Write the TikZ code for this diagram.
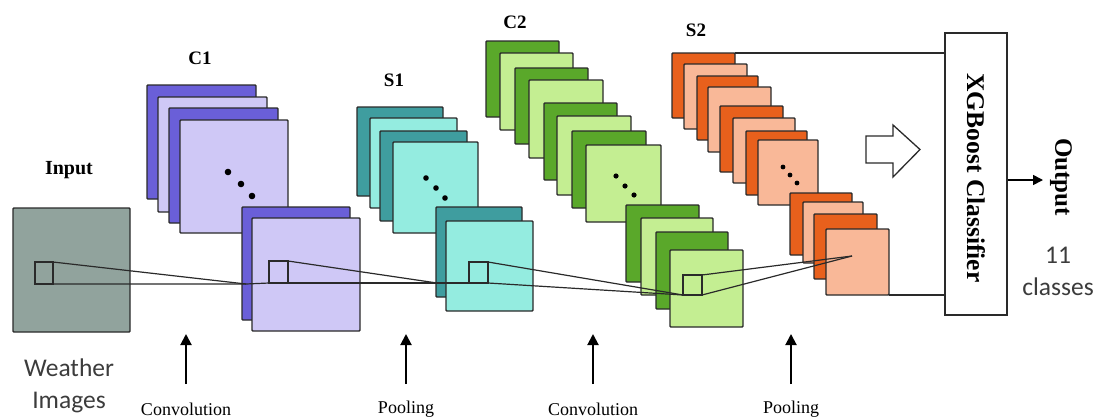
\documentclass[tikz,border=0pt]{standalone}
\usepackage{fontspec}
\setmainfont{Liberation Serif}
\newfontfamily\calib{Carlito}
\usetikzlibrary{arrows.meta}
\definecolor{inpc}{HTML}{91A39D}
\definecolor{cad}{HTML}{6A5FD8}
\definecolor{cal}{HTML}{CFC8F6}
\definecolor{sad}{HTML}{3F9D9F}
\definecolor{sal}{HTML}{94ECE0}
\definecolor{cbd}{HTML}{5AA82A}
\definecolor{cbl}{HTML}{C4EE92}
\definecolor{sbd}{HTML}{E8601C}
\definecolor{sbl}{HTML}{F9B898}
\definecolor{edge}{HTML}{2A2A2A}
\definecolor{graytext}{HTML}{3C3C3C}
\begin{document}
\begin{tikzpicture}[x=1pt,y=-1pt,
  map/.style={draw=edge,line width=1.4pt,rounded corners=0.8pt},
  dotc/.style={fill=black},
  rf/.style={draw=edge,line width=1.2pt},
  layerlabel/.style={font=\fontsize{19}{19}\selectfont\bfseries,inner sep=0pt},
  oplabel/.style={font=\fontsize{18}{18}\selectfont,inner sep=0pt},
  uparrow/.style={line width=2pt,-{Triangle[length=11pt,width=11pt]}},
  sanslabel/.style={font=\calib\fontsize{25.5}{32}\selectfont,text=graytext,inner sep=0pt,align=center}]
\useasboundingbox (0,0) rectangle (1099,418);

% ---------- Input ----------
\draw[map,fill=inpc] (13,208) rectangle (130,332);

% ---------- C1 ----------
\foreach \a/\b/\c/\d/\f in {147/85/256/199/cad,158/97/267/212/cal,169/108/278/223/cad,180/120/288/233/cal}
  \draw[map,fill=\f] (\a,\b) rectangle (\c,\d);
\foreach \p in {(228,172),(241,184),(252,196)} \fill[dotc] \p circle (3.3pt);
\foreach \a/\b/\c/\d/\f in {242/207/350/320/cad,252/218/360/331/cal}
  \draw[map,fill=\f] (\a,\b) rectangle (\c,\d);

% ---------- S1 ----------
\foreach \a/\b/\c/\d/\f in {357/107/443/196/sad,370/118/457/208/sal,380/131/467/221/sad,393/142/478/233/sal}
  \draw[map,fill=\f] (\a,\b) rectangle (\c,\d);
\foreach \p in {(426,178),(436,188),(445,198)} \fill[dotc] \p circle (2.8pt);
\foreach \a/\b/\c/\d/\f in {436/207/522/297/sad,446/221/533/311/sal}
  \draw[map,fill=\f] (\a,\b) rectangle (\c,\d);

% ---------- C2 ----------
\foreach \a/\b/\c/\d/\f in {486/41/559/117/cbd,500/53/573/130/cbl,515/68/588/144/cbd,529/80/603/158/cbl,544/103/617/180/cbd,557/116/631/195/cbl,572/131/646/208/cbd,586/145/661/222/cbl}
  \draw[map,fill=\f] (\a,\b) rectangle (\c,\d);
\foreach \p in {(616,176),(625,186),(634,195)} \fill[dotc] \p circle (2.6pt);
\foreach \a/\b/\c/\d/\f in {626/205/699/282/cbd,641/218/713/295/cbl,656/232/728/309/cbd,670/250/743/327/cbl}
  \draw[map,fill=\f] (\a,\b) rectangle (\c,\d);

% ---------- S2 ----------
\foreach \a/\b/\c/\d/\f in {672/53/735/118/sbd,684/64/747/129/sbl,697/76/758/140/sbd,708/87/771/152/sbl,720/106/783/172/sbd,733/118/795/183/sbl,746/131/807/195/sbd,758/140/818/205/sbl}
  \draw[map,fill=\f] (\a,\b) rectangle (\c,\d);
\foreach \p in {(783,167),(790,175),(797,183)} \fill[dotc] \p circle (2.4pt);
\foreach \a/\b/\c/\d/\f in {790/193/852/255/sbd,803/202/863/263/sbl,814/214/877/279/sbd,826/229/889/295/sbl}
  \draw[map,fill=\f] (\a,\b) rectangle (\c,\d);

% ---------- receptive fields ----------
\coordinate (i0) at (35,262); \coordinate (i1) at (53,284);
\coordinate (c0) at (269,261); \coordinate (c1) at (288,283);
\coordinate (s0) at (469,262); \coordinate (s1) at (488,283);
\coordinate (d0) at (683,275); \coordinate (d1) at (702,295);
\coordinate (p1) at (246,284);
\coordinate (p2) at (437,283);
\coordinate (p3) at (683,295);
\coordinate (p4) at (852,256);
\draw[rf] (i0) rectangle (i1);
\draw[rf] (c0) rectangle (c1);
\draw[rf] (s0) rectangle (s1);
\draw[rf] (d0) rectangle (d1);
\draw[rf] (i1 |- i0) -- (p1);
\draw[rf] (i1) -- (p1) -- (c0 |- c1);
\draw[rf] (c1 |- c0) -- (p2);
\draw[rf] (c1) -- (p2) -- (s0 |- s1);
\draw[rf] (s1 |- s0) -- (p3);
\draw[rf] (s1) -- (p3);
\draw[rf] (d1 |- d0) -- (p4);
\draw[rf] (d1) -- (p4);

% ---------- classifier ----------
\node[draw=edge,line width=1.2pt,fill=white,minimum width=62pt,minimum height=282pt,inner sep=0pt] (xgb) at (976,174) {};
\node[rotate=-90,font=\fontsize{25.5}{25.5}\selectfont\bfseries,inner sep=0pt] (xgbt) at (976,178) {XGBoost Classifier};
\coordinate (s2tr) at (735,53);
\coordinate (s2br) at (889,295);
\draw[line width=1.2pt,draw=edge] (s2tr) -- (s2tr -| xgb.west);
\draw[line width=1.2pt,draw=edge] (s2br) -- (s2br -| xgb.west);

% block arrow
\draw[line width=1.3pt,draw=edge,fill=white,line join=miter]
  (866,136) -- (893,136) -- (893,125) -- (920,149.5) -- (893,177) -- (893,163) -- (866,163) -- cycle;

% output
\coordinate (outtip) at (1043,180);
\draw[line width=1.6pt,-{Triangle[length=10pt,width=10pt]}] (xgb.east |- outtip) -- (outtip);
\node[rotate=-90,font=\fontsize{25}{25}\selectfont\bfseries,inner sep=0pt] (outl) at (1061,177) {Output};
\node[sanslabel] (cls) at (1058,271) {11\\classes};

% ---------- labels ----------
\node[font=\fontsize{20}{20}\selectfont\bfseries,inner sep=0pt] (inl) at (69,170) {Input};
\node[layerlabel] (c1l) at (200,58) {C1};
\node[layerlabel] (s1l) at (394,80) {S1};
\node[layerlabel] (c2l) at (515,22) {C2};
\node[layerlabel] (s2l) at (696,30) {S2};
\node[sanslabel] (wi) at (69,386) {Weather\\Images};

\foreach \x/\t/\n in {186/Convolution/a,406/Pooling/b,593/Convolution/c,791/Pooling/d}{
  \node[oplabel] (op\n) at (\x,409) {\t};
  \coordinate (opb\n) at (\x,384);
  \coordinate (opt\n) at (\x,334);
  \draw[uparrow] (opb\n) -- (opt\n);
}
\end{tikzpicture}
\end{document}
